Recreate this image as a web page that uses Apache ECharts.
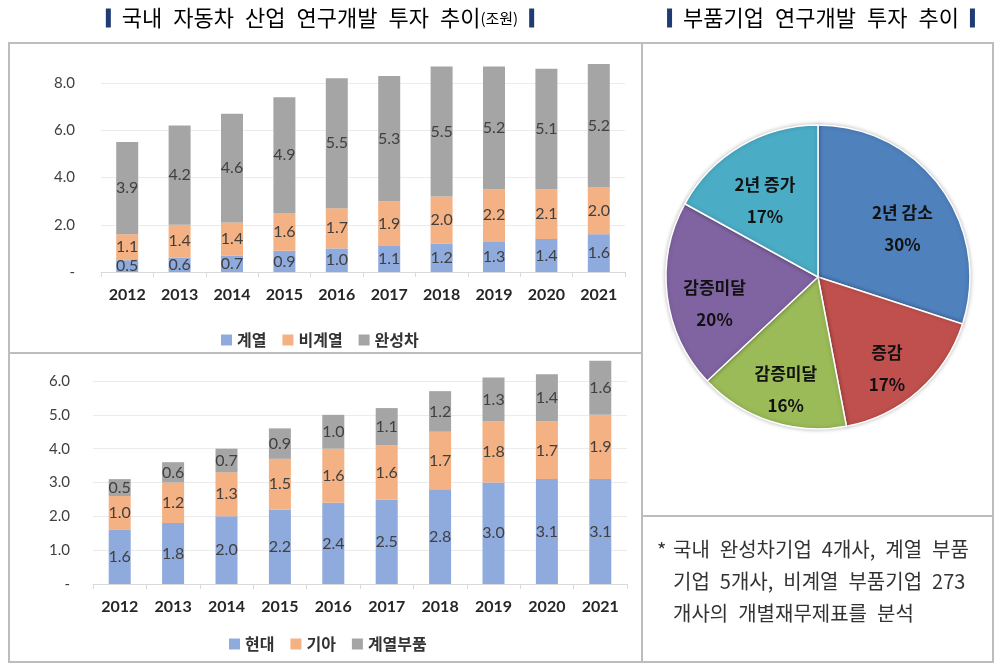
<!DOCTYPE html>
<html>
<head>
<meta charset="utf-8">
<script src="https://cdn.jsdelivr.net/npm/echarts@6/dist/echarts.min.js"></script>
<style>
html,body{margin:0;padding:0;background:#fff;}
#c{width:1000px;height:668px;}
</style>
</head>
<body>
<div id="c"></div>
<script>
// ---- data ----
var years = ['2012','2013','2014','2015','2016','2017','2018','2019','2020','2021'];
// top chart: 국내 자동차 산업 연구개발 투자 추이 (조원)
var topNames = ['계열','비계열','완성차'];
var gyeyeol   = [0.5,0.6,0.7,0.9,1.0,1.1,1.2,1.3,1.4,1.6];
var bigyeyeol = [1.1,1.4,1.4,1.6,1.7,1.9,2.0,2.2,2.1,2.0];
var wansungcha= [3.9,4.2,4.6,4.9,5.5,5.3,5.5,5.2,5.1,5.2];
var topTicks = [0,2,4,6,8];
// bottom chart
var botNames = ['현대','기아','계열부품'];
var hyundai = [1.6,1.8,2.0,2.2,2.4,2.5,2.8,3.0,3.1,3.1];
var kia     = [1.0,1.2,1.3,1.5,1.6,1.6,1.7,1.8,1.7,1.9];
var parts   = [0.5,0.6,0.7,0.9,1.0,1.1,1.2,1.3,1.4,1.6];
var botTicks = [0,1,2,3,4,5,6];
// pie: 부품기업 연구개발 투자 추이
var pieNames  = ['2년 감소','증감','감증미달','감증미달','2년 증가'];
var pieValues = [30,17,16,20,17];
// texts
var titleLeft = '국내 자동차 산업 연구개발 투자 추이';
var titleLeftUnit = '(조원)';
var titleRight = '부품기업 연구개발 투자 추이';
var noteMark = '*';
var noteLines = ['국내 완성차기업 4개사, 계열 부품', '기업 5개사, 비계열 부품기업 273', '개사의 개별재무제표를 분석'];

// ---- style ----
var C_BLUE = '#8faadc', C_ORANGE = '#f4b183', C_GRAY = '#a5a5a5';
var PIE_COLORS = ['#4f81bd','#c0504d','#9bbb59','#8064a2','#4bacc6'];
var NUMF = 'Lato, "Liberation Sans", sans-serif';
var KRF = '"Noto Sans CJK KR", sans-serif';
var PIE_C = [818, 277], PIE_R = 152;
var WIDE = function(s){ return s.split(' ').join('\u2002'); };

var chart = echarts.init(document.getElementById('c'), null, {renderer:'canvas'});

function yFmt(v){ return v === 0 ? '-' : v.toFixed(1); }
function barSeries(name, data, color, xi){
  return {
    name: name, type:'bar', stack: 's'+xi, xAxisIndex: xi, yAxisIndex: xi,
    data: data, barWidth: 22, clip: false,
    itemStyle: {color: color},
    label: {show: true, position: 'inside', color: '#404040', fontFamily: NUMF, fontSize: 16,
            formatter: function(p){ return p.value.toFixed(1); }}
  };
}
function xAxisCfg(gi){
  return {
    type:'category', gridIndex: gi, data: years,
    axisLine: {lineStyle: {color:'#d9d9d9'}},
    axisTick: {show:true, length:5, lineStyle:{color:'#d9d9d9'}},
    axisLabel: {color:'#262626', fontFamily: NUMF, fontWeight:'bold', fontSize: 16, margin: 15}
  };
}
function yAxisCfg(gi, max, interval, margin){
  return {
    type:'value', gridIndex: gi, min: 0, max: max, interval: interval,
    axisLine: {show:false}, axisTick:{show:false},
    splitLine: {lineStyle: {color:'#ebebeb'}},
    axisLabel: {color:'#404040', fontFamily: NUMF, fontSize: 15, margin: margin, formatter: yFmt}
  };
}
function noteText(x, y, s){
  return {type:'text', x: x, y: y, silent:true, style:{
    text: s, fontFamily: KRF, fontSize: 20, fill:'#333', align:'left', verticalAlign:'top'}};
}

var option = {
  animation: false,
  backgroundColor: '#fff',
  grid: [
    {left: 101, top: 83, width: 524, height: 189},
    {left: 93, top: 381, width: 534, height: 203}
  ],
  xAxis: [xAxisCfg(0), xAxisCfg(1)],
  yAxis: [yAxisCfg(0, topTicks[topTicks.length-1], topTicks[1]-topTicks[0], 26),
          yAxisCfg(1, botTicks[botTicks.length-1], botTicks[1]-botTicks[0], 23)],
  legend: [
    {data: topNames, left: 216, top: 327, itemWidth: 11, itemHeight: 11, itemGap: 16, icon:'rect',
     textStyle:{fontFamily: KRF, fontWeight:'bold', fontSize: 16, color:'#333'}},
    {data: botNames, left: 224, top: 631, itemWidth: 11, itemHeight: 11, itemGap: 16, icon:'rect',
     textStyle:{fontFamily: KRF, fontWeight:'bold', fontSize: 16, color:'#333'}}
  ],
  series: [
    barSeries(topNames[0], gyeyeol, C_BLUE, 0),
    barSeries(topNames[1], bigyeyeol, C_ORANGE, 0),
    barSeries(topNames[2], wansungcha, C_GRAY, 0),
    barSeries(botNames[0], hyundai, C_BLUE, 1),
    barSeries(botNames[1], kia, C_ORANGE, 1),
    barSeries(botNames[2], parts, C_GRAY, 1),
    {
      type:'pie', center: PIE_C, radius: PIE_R, startAngle: 90, clockwise: true,
      data: pieNames.map(function(n,i){ return {name:n, value: pieValues[i], itemStyle:{color: PIE_COLORS[i]}}; }),
      itemStyle: {borderColor:'#fff', borderWidth: 1.5, shadowColor:'rgba(0,0,0,0.25)', shadowBlur: 4},
      label: {show:true, position:'inside', formatter:'{b}\n{c}%', color:'#111', fontFamily: KRF,
              fontWeight:'bold', fontSize: 17, lineHeight: 32},
      labelLine: {show:false},
      emphasis: {disabled: true},
      labelLayout: function(p){
        var r = p.labelRect; var lx = r.x + r.width/2, ly = r.y + r.height/2;
        var k = 1.32;
        return {x: PIE_C[0] + (lx-PIE_C[0])*k, y: PIE_C[1] + (ly-PIE_C[1])*k + 13};
      }
    }
  ],
  graphic: [
    {type:'rect', shape:{x:9, y:43, width:633, height:310}, style:{fill:'none', stroke:'#bdbdbd', lineWidth:2}, silent:true},
    {type:'rect', shape:{x:9, y:353, width:633, height:309}, style:{fill:'none', stroke:'#bdbdbd', lineWidth:2}, silent:true},
    {type:'rect', shape:{x:642, y:43, width:351, height:473}, style:{fill:'none', stroke:'#bdbdbd', lineWidth:2}, silent:true},
    {type:'rect', shape:{x:642, y:516, width:351, height:146}, style:{fill:'none', stroke:'#bdbdbd', lineWidth:2}, silent:true},
    {type:'text', x: 320, y: 18, silent:true, style:{
      text: '{b| }{t|\u2002' + WIDE(titleLeft) + '}{u|' + titleLeftUnit + '}{t|\u2002}{b| }',
      align:'center', verticalAlign:'middle',
      rich: {
        b: {backgroundColor:'#1f3b73', width:5, height:19},
        t: {fontFamily: KRF, fontSize: 22, color:'#4673a0'},
        u: {fontFamily: KRF, fontSize: 15, color:'#4673a0'}
      }}},
    {type:'text', x: 821, y: 18, silent:true, style:{
      text: '{b| }{t|\u2002' + WIDE(titleRight) + '\u2002}{b| }',
      align:'center', verticalAlign:'middle',
      rich: {
        b: {backgroundColor:'#1f3b73', width:5, height:19},
        t: {fontFamily: KRF, fontSize: 22, color:'#4673a0'}
      }}},
    noteText(657, 540, noteMark),
    noteText(673, 539, WIDE(noteLines[0])),
    noteText(673, 571, WIDE(noteLines[1])),
    noteText(673, 603, WIDE(noteLines[2]))
  ]
};
chart.setOption(option);
</script>
</body>
</html>
